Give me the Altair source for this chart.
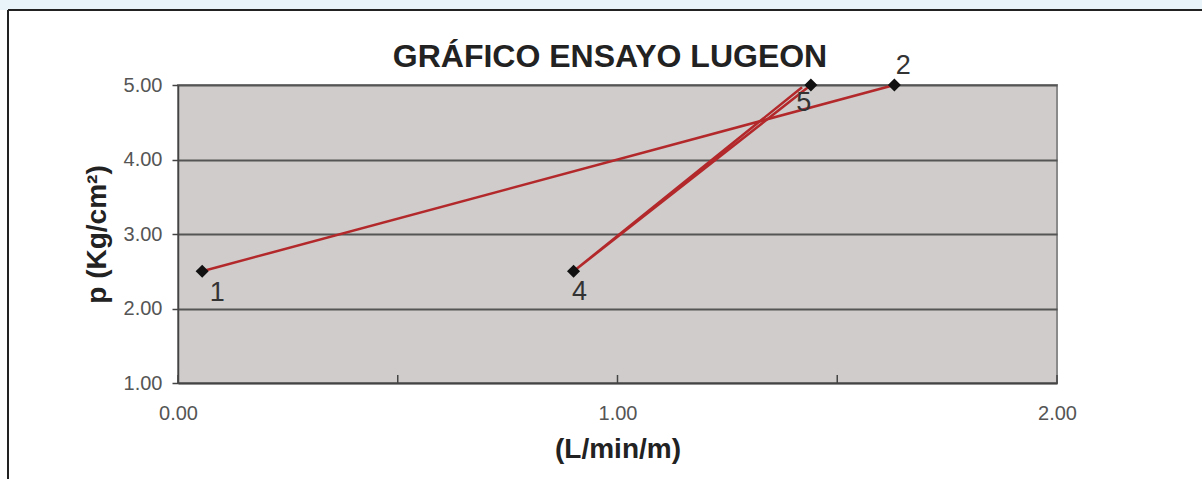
import altair as alt
import pandas as pd

# Lugeon test readings: flow (L/min/m) vs. pressure (Kg/cm²)
etiquetas = ["1", "2", "3", "4", "5"]
caudal = [0.055, 1.63, 1.42, 0.90, 1.44]
presion = [2.50, 5.00, 4.97, 2.50, 5.00]
tramo = ["A", "A", "B", "B", "B"]
orden = [1, 2, 1, 2, 3]

x_ticks = [0.0, 0.5, 1.0, 1.5, 2.0]
y_ticks = [1.0, 2.0, 3.0, 4.0, 5.0]
titulo = ["GRÁFICO ENSAYO LUGEON"]

df = pd.DataFrame({
    "etiqueta": etiquetas,
    "caudal": caudal,
    "presion": presion,
    "tramo": tramo,
    "orden": orden,
})
ticks_df = pd.DataFrame({"t": x_ticks})
titulo_df = pd.DataFrame({"texto": titulo})

FONT = "Liberation Sans"
W, H = 879, 298
PAD_L, PAD_T = 178, 85

x_scale = alt.Scale(domain=[0, 2], nice=False, zero=False)
y_scale = alt.Scale(domain=[1, 5], nice=False, zero=False)

x_axis = alt.Axis(
    values=[0, 1, 2], format=".2f", title="(L/min/m)", ticks=False,
    labelFlush=False, labelPadding=20, titlePadding=12, grid=False,
    domainColor="#444", domainWidth=1.5,
)
y_axis = alt.Axis(
    values=y_ticks, format=".2f", title="p (Kg/cm²)",
    tickSize=6, tickColor="#444", tickWidth=1.5, labelPadding=10,
    labelFlush=False, titlePadding=12, grid=True, gridColor="#555",
    gridWidth=1.8, domainColor="#444", domainWidth=1.5,
)

base = alt.Chart(df)

lines = base.mark_line(color="#b3282a", strokeWidth=2.5).encode(
    x=alt.X("caudal:Q", scale=x_scale, axis=x_axis),
    y=alt.Y("presion:Q", scale=y_scale, axis=y_axis),
    detail="tramo:N",
    order="orden:Q",
)

marcadores = base.transform_filter(alt.datum.etiqueta != "3").mark_point(
    shape="diamond", filled=True, color="#111", size=170, opacity=1
).encode(
    x=alt.X("caudal:Q", scale=x_scale),
    y=alt.Y("presion:Q", scale=y_scale),
)

# offsets of each point number relative to its marker
desplaz = {"1": (15, 22), "2": (9, -19), "4": (6, 21), "5": (-7, 18)}
textos = [
    base.transform_filter(alt.datum.etiqueta == k).mark_text(
        font=FONT, fontSize=27, color="#333", dx=dx, dy=dy
    ).encode(
        x=alt.X("caudal:Q", scale=x_scale),
        y=alt.Y("presion:Q", scale=y_scale),
        text="etiqueta:N",
    )
    for k, (dx, dy) in desplaz.items()
]

# small upward ticks along the x axis
marcas_x = alt.Chart(ticks_df).mark_rule(color="#444", strokeWidth=1.5).encode(
    x=alt.X("t:Q", scale=x_scale),
    y=alt.value(H),
    y2=alt.value(H - 8),
)

# chart title, placed in pixels above the plot area
cabecera = alt.Chart(titulo_df).mark_text(
    font=FONT, fontSize=32, fontWeight="bold", color="#222",
    align="center", baseline="alphabetic",
).encode(
    x=alt.value(610 - PAD_L),
    y=alt.value(67 - PAD_T),
    text="texto:N",
)

# outer frame of the figure
franja = alt.Chart(ticks_df).mark_rect(color="#e9f4fa").encode(
    x=alt.value(-PAD_L), x2=alt.value(1202 - PAD_L),
    y=alt.value(-PAD_T), y2=alt.value(10 - PAD_T),
)
borde_sup = alt.Chart(ticks_df).mark_rule(color="#222", strokeWidth=2).encode(
    x=alt.value(8 - PAD_L), x2=alt.value(1202 - PAD_L),
    y=alt.value(10 - PAD_T),
)
borde_izq = alt.Chart(ticks_df).mark_rule(color="#222", strokeWidth=2).encode(
    x=alt.value(8 - PAD_L),
    y=alt.value(10 - PAD_T), y2=alt.value(479 - PAD_T),
)

chart = alt.layer(
    franja, borde_sup, borde_izq, cabecera, lines, marcas_x, marcadores, *textos
).properties(
    width=W,
    height=H,
    autosize=alt.AutoSizeParams(type="none"),
    padding={"left": PAD_L, "top": PAD_T, "right": 1202 - PAD_L - W,
             "bottom": 479 - PAD_T - H},
    background="white",
).configure_view(
    fill="#cfcccb", stroke="#8a8a8a", strokeWidth=2,
).configure_axis(
    labelFont=FONT, labelFontSize=20, labelColor="#555",
    titleFont=FONT, titleFontSize=28, titleFontWeight="bold", titleColor="#222",
)

chart.save("out.html", embed_options={"renderer": "svg", "actions": False})
